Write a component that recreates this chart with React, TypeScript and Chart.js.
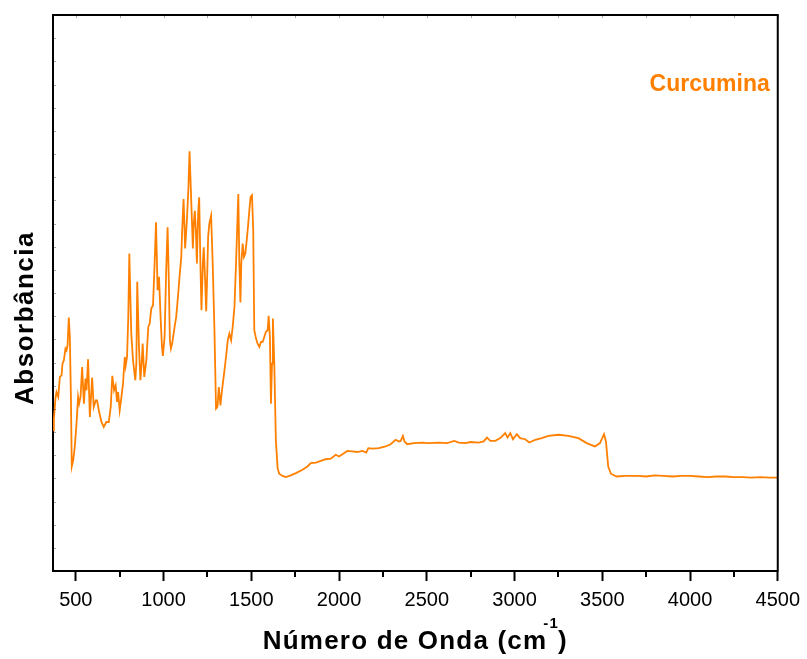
import React, { useEffect, useRef } from 'react';
import { Chart, registerables } from 'chart.js';

Chart.register(...registerables);

// Wavenumber (cm^-1) of each sampled point of the spectrum
const wavenumbers = [
  371, 375, 385, 390, 400, 409, 419, 424, 432, 441,
  447, 453, 460, 466, 472, 477, 485, 494, 504, 513,
  519, 527, 536, 546, 555, 561, 570, 580, 593, 602,
  614, 621, 633, 646, 659, 674, 688, 699, 708, 718,
  727, 735, 741, 750, 760, 769, 779, 784, 792, 799,
  805, 816, 826, 839, 845, 850, 860, 868, 875, 881,
  890, 902, 913, 921, 930, 940, 949, 957, 966, 974,
  983, 991, 996, 1006, 1015, 1023, 1030, 1036, 1042, 1049,
  1063, 1072, 1082, 1091, 1101, 1106, 1114, 1123, 1133, 1142,
  1148, 1157, 1167, 1172, 1178, 1184, 1190, 1197, 1203, 1210,
  1216, 1224, 1229, 1237, 1243, 1248, 1254, 1261, 1271, 1280,
  1290, 1299, 1307, 1315, 1324, 1333, 1347, 1356, 1366, 1375,
  1385, 1394, 1404, 1413, 1421, 1426, 1432, 1438, 1443, 1451,
  1458, 1466, 1474, 1481, 1489, 1496, 1504, 1511, 1517, 1527,
  1536, 1546, 1555, 1565, 1574, 1583, 1593, 1599, 1606, 1612,
  1618, 1623, 1631, 1640, 1650, 1659, 1678, 1697, 1725, 1754,
  1792, 1820, 1839, 1868, 1896, 1924, 1953, 1981, 2000, 2019,
  2047, 2076, 2104, 2133, 2155, 2167, 2190, 2227, 2265, 2294,
  2322, 2341, 2351, 2364, 2373, 2388, 2426, 2474, 2511, 2568,
  2616, 2657, 2682, 2720, 2748, 2796, 2824, 2843, 2862, 2890,
  2919, 2947, 2960, 2976, 2991, 3013, 3032, 3061, 3084, 3118,
  3155, 3193, 3250, 3307, 3364, 3411, 3458, 3487, 3510, 3521,
  3534, 3549, 3582, 3629, 3705, 3750, 3800, 3850, 3900, 3950,
  4000, 4050, 4100, 4150, 4200, 4250, 4300, 4350, 4400, 4450,
  4500,
];

// Absorbance (arbitrary units, 0-100 full scale) at each wavenumber
const absorbance = [
  25.3, 27.4, 31.3, 32.2, 31.3, 34.9, 35.2, 37.3, 37.9, 40.0,
  39.7, 40.6, 45.6, 42.1, 31.3, 18.8, 19.9, 22.3, 26.5, 31.3,
  30.1, 31.3, 36.7, 30.1, 34.6, 32.5, 38.1, 27.7, 34.8, 29.5,
  30.7, 30.7, 28.6, 26.8, 25.9, 26.8, 26.8, 29.5, 35.1, 32.5,
  33.4, 30.4, 32.2, 28.9, 31.3, 33.7, 38.5, 36.9, 38.5, 45.7,
  57.1, 42.7, 37.9, 34.3, 37.3, 52.0, 40.3, 34.3, 37.3, 40.9,
  34.9, 37.9, 43.9, 44.5, 47.2, 47.8, 55.3, 62.7, 50.5, 52.9,
  45.7, 40.3, 38.7, 42.1, 54.1, 61.8, 52.3, 41.5, 40.0, 40.9,
  43.9, 45.7, 49.3, 52.9, 56.5, 61.3, 66.9, 58.0, 63.1, 69.1,
  75.5, 67.3, 58.0, 62.5, 64.8, 61.3, 55.3, 64.3, 67.2, 55.3,
  46.9, 55.3, 58.2, 52.3, 46.7, 52.3, 60.1, 62.5, 63.9, 55.3,
  43.3, 29.2, 29.5, 33.1, 29.8, 32.5, 36.1, 38.5, 41.5, 42.7,
  41.5, 43.9, 47.5, 55.3, 63.1, 67.8, 55.3, 48.3, 55.3, 58.9,
  56.5, 57.1, 59.5, 61.9, 64.9, 67.3, 67.6, 61.3, 43.3, 41.8,
  40.9, 40.3, 41.2, 41.2, 42.1, 43.0, 43.3, 45.9, 42.1, 30.1,
  37.3, 45.4, 37.3, 23.5, 18.5, 17.5, 17.1, 16.9, 17.2, 17.6,
  18.2, 18.8, 19.4, 19.5, 19.8, 20.1, 20.2, 20.9, 20.6, 21.0,
  21.6, 21.5, 21.4, 21.6, 21.3, 22.1, 22.0, 22.1, 22.4, 22.8,
  23.6, 23.3, 23.4, 24.3, 23.3, 22.8, 23.0, 23.1, 23.0, 23.1,
  23.0, 23.4, 23.1, 23.0, 23.2, 23.1, 23.3, 24.0, 23.4, 23.4,
  23.9, 24.8, 24.0, 24.8, 23.7, 24.6, 23.9, 23.7, 23.1, 23.6,
  23.9, 24.3, 24.5, 24.3, 23.9, 23.0, 22.4, 23.0, 24.6, 23.3,
  18.8, 17.5, 17.0, 17.1, 17.1, 17.0, 17.2, 17.1, 17.0, 17.1,
  17.1, 17.0, 16.9, 17.0, 17.0, 16.9, 16.9, 16.8, 16.9, 16.8,
  16.8,
];

const xMajorTicks = [500, 1000, 1500, 2000, 2500, 3000, 3500, 4000, 4500];
const xMinorTicks = [750, 1250, 1750, 2250, 2750, 3250, 3750, 4250];
const yMinorTickCount = 24;

const seriesLabel = 'Curcumina';
const xTitleMain = 'Número de Onda (cm';
const xTitleSup = '-1';
const xTitleEnd = ')';
const yTitle = 'Absorbância';

const X_MIN = 370;
const X_MAX = 4500;
const Y_MIN = 0;
const Y_MAX = 100;

const ORANGE = '#FF8000';
const FONT = "'Liberation Sans', Arial, Helvetica, sans-serif";

const framePlugin = {
  id: 'originFrame',
  afterDraw(chart: any) {
    const ctx = chart.ctx as CanvasRenderingContext2D;
    const { left, right, top, bottom } = chart.chartArea;
    const xs = chart.scales.x;
    const ys = chart.scales.y;
    ctx.save();

    // top & right frame lines
    ctx.strokeStyle = '#000';
    ctx.lineWidth = 2;
    ctx.beginPath();
    ctx.moveTo(left - 1, top);
    ctx.lineTo(right, top);
    ctx.lineTo(right, bottom + 1);
    ctx.stroke();

    // minor ticks on bottom axis (outward, shorter)
    ctx.lineWidth = 2;
    ctx.beginPath();
    xMinorTicks.forEach((v) => {
      const px = Math.round(xs.getPixelForValue(v));
      ctx.moveTo(px, bottom);
      ctx.lineTo(px, bottom + 6);
    });
    ctx.stroke();

    // faint inward ticks on top axis
    ctx.strokeStyle = 'rgba(0,0,0,0.35)';
    ctx.lineWidth = 1;
    ctx.beginPath();
    [...xMajorTicks, ...xMinorTicks].forEach((v) => {
      const px = Math.round(xs.getPixelForValue(v)) + 0.5;
      ctx.moveTo(px, top);
      ctx.lineTo(px, top + 3);
    });
    // faint inward ticks on left axis
    for (let i = 1; i < yMinorTickCount; i++) {
      const py = Math.round(ys.getPixelForValue(Y_MIN + (i * (Y_MAX - Y_MIN)) / yMinorTickCount)) + 0.5;
      ctx.moveTo(left, py);
      ctx.lineTo(left + 3, py);
    }
    ctx.stroke();

    // series label
    ctx.fillStyle = ORANGE;
    ctx.font = `bold 23px ${FONT}`;
    ctx.textAlign = 'right';
    ctx.textBaseline = 'alphabetic';
    ctx.fillText(seriesLabel, right - 8, top + 76);

    // x axis title with superscript
    ctx.fillStyle = '#000';
    ctx.textAlign = 'left';
    (ctx as any).letterSpacing = '1.2px';
    const mainFont = `bold 26px ${FONT}`;
    const supFont = `bold 15px ${FONT}`;
    ctx.font = mainFont;
    const wMain = ctx.measureText(xTitleMain).width - 4;
    const wEnd = ctx.measureText(xTitleEnd).width;
    ctx.font = supFont;
    const wSup = ctx.measureText(xTitleSup).width - 1;
    const total = wMain + wSup + wEnd;
    const cx = (left + right) / 2;
    let tx = cx - total / 2;
    const baseY = bottom + 78;
    ctx.font = mainFont;
    ctx.fillText(xTitleMain, tx, baseY);
    tx += wMain;
    ctx.font = supFont;
    ctx.fillText(xTitleSup, tx, baseY - 21);
    tx += wSup;
    ctx.font = mainFont;
    ctx.fillText(xTitleEnd, tx, baseY);

    // y axis title (rotated)
    (ctx as any).letterSpacing = '1.5px';
    ctx.font = mainFont;
    ctx.translate(left - 20, (top + bottom) / 2 + 25);
    ctx.rotate(-Math.PI / 2);
    ctx.textAlign = 'center';
    ctx.fillText(yTitle, 0, 0);
    ctx.restore();
  },
};

export default function App() {
  const canvasRef = useRef<HTMLCanvasElement | null>(null);

  useEffect(() => {
    const canvas = canvasRef.current;
    if (!canvas) return;
    const points = wavenumbers.map((w, i) => ({ x: w, y: absorbance[i] }));
    const chart = new Chart(canvas, {
      type: 'line',
      data: {
        datasets: [
          {
            label: seriesLabel,
            data: points,
            borderColor: ORANGE,
            backgroundColor: ORANGE,
            borderWidth: 1.8,
            pointRadius: 0,
            tension: 0,
            fill: false,
          },
        ],
      },
      options: {
        responsive: false,
        animation: false,
        layout: { padding: { left: 0, top: 15, right: 27, bottom: 0 } },
        plugins: {
          legend: { display: false },
          tooltip: { enabled: false },
          title: { display: false },
        },
        scales: {
          x: {
            type: 'linear',
            position: 'bottom',
            min: X_MIN,
            max: X_MAX,
            afterBuildTicks: (scale: any) => {
              scale.ticks = xMajorTicks.map((v) => ({ value: v }));
            },
            afterFit: (scale: any) => {
              scale.height = 88;
            },
            grid: {
              display: true,
              drawOnChartArea: false,
              drawTicks: true,
              tickLength: 10,
              tickWidth: 2,
              tickColor: '#000',
            },
            border: { display: true, color: '#000', width: 2 },
            ticks: {
              color: '#000',
              font: { family: FONT, size: 20 },
              padding: 7,
              maxRotation: 0,
              minRotation: 0,
              autoSkip: false,
              callback: (v: any) => String(v),
            },
          },
          y: {
            type: 'linear',
            position: 'left',
            min: Y_MIN,
            max: Y_MAX,
            afterFit: (scale: any) => {
              scale.width = 53;
            },
            grid: { display: false, drawTicks: false },
            border: { display: true, color: '#000', width: 2 },
            ticks: { display: false },
          },
        },
      },
      plugins: [framePlugin],
    });
    return () => chart.destroy();
  }, []);

  return (
    <div style={{ position: 'fixed', left: 0, top: 0, width: 807, height: 659, background: '#fff' }}>
      <canvas ref={canvasRef} width={807} height={659} style={{ display: 'block' }} />
    </div>
  );
}
